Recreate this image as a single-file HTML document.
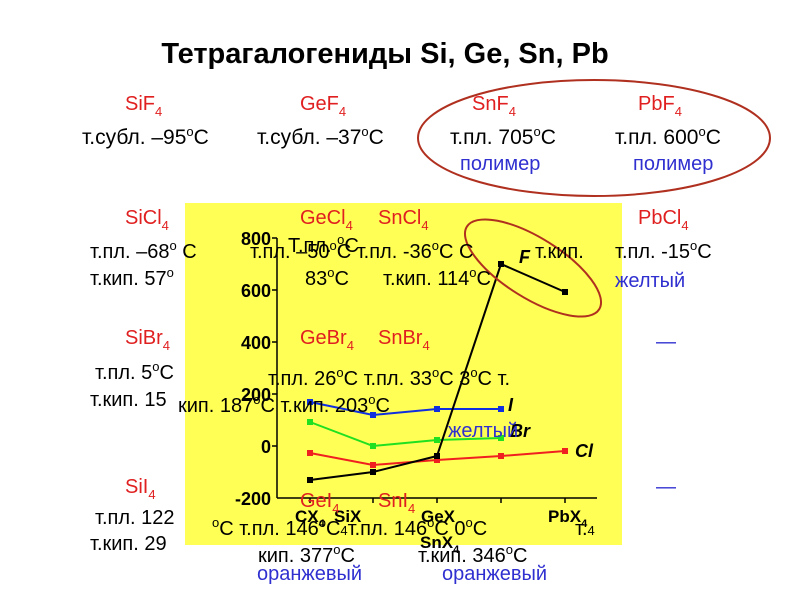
<!DOCTYPE html><html><head><style>body{margin:0;background:#fff}svg{display:block}text{font-family:"Liberation Sans",sans-serif}</style></head><body>
<svg width="800" height="601" xmlns="http://www.w3.org/2000/svg">
<rect width="800" height="601" fill="#fff"/>
<text x="385" y="63" font-size="29" font-weight="bold" text-anchor="middle">Тетрагалогениды Si, Ge, Sn, Pb</text>
<g font-size="20" fill="#e02020">
<text x="125" y="110">SiF<tspan font-size="13" dy="6">4</tspan></text>
<text x="300" y="110">GeF<tspan font-size="13" dy="6">4</tspan></text>
<text x="472" y="110">SnF<tspan font-size="13" dy="6">4</tspan></text>
<text x="638" y="110">PbF<tspan font-size="13" dy="6">4</tspan></text>
</g>
<g font-size="21">
<text x="82" y="144">т.субл. –95<tspan font-size="13" dy="-8">o</tspan><tspan dy="8">C</tspan></text>
<text x="257" y="144">т.субл. –37<tspan font-size="13" dy="-8">o</tspan><tspan dy="8">C</tspan></text>
<text x="450" y="144">т.пл. 705<tspan font-size="13" dy="-8">o</tspan><tspan dy="8">C</tspan></text>
<text x="615" y="144">т.пл. 600<tspan font-size="13" dy="-8">o</tspan><tspan dy="8">C</tspan></text>
</g>
<g font-size="20" fill="#3030d0"><text x="460" y="170">полимер</text><text x="633" y="170">полимер</text></g>
<ellipse cx="594" cy="138" rx="176" ry="58" fill="none" stroke="#b03020" stroke-width="2"/>
<rect x="185" y="203" width="437" height="342" fill="#ffff55"/>
<g stroke="#000" stroke-width="1.5" fill="none">
<line x1="277" y1="238" x2="277" y2="498"/><line x1="277" y1="498" x2="597" y2="498"/>
<line x1="272" y1="238" x2="277" y2="238"/><line x1="272" y1="290" x2="277" y2="290"/><line x1="272" y1="342" x2="277" y2="342"/><line x1="272" y1="394" x2="277" y2="394"/><line x1="272" y1="446" x2="277" y2="446"/>
<line x1="310" y1="498" x2="310" y2="503"/><line x1="373" y1="498" x2="373" y2="503"/><line x1="437" y1="498" x2="437" y2="503"/><line x1="501" y1="498" x2="501" y2="503"/><line x1="565" y1="498" x2="565" y2="503"/>
</g>
<g font-size="18" font-weight="bold" text-anchor="end"><text x="271" y="245">800</text><text x="271" y="297">600</text><text x="271" y="349">400</text><text x="271" y="401">200</text><text x="271" y="453">0</text><text x="271" y="505">-200</text></g>
<polyline points="310,402 373,415 437,409 501,409" fill="none" stroke="#1030e0" stroke-width="2"/>
<polyline points="310,422 373,446 437,440 501,438" fill="none" stroke="#20e020" stroke-width="2"/>
<polyline points="310,453 373,465 437,460 501,456 565,451" fill="none" stroke="#f02020" stroke-width="2"/>
<polyline points="310,480 373,472 437,456 501,264 565,292" fill="none" stroke="#000" stroke-width="2"/>
<g fill="#1030e0"><rect x="307" y="399" width="6" height="6"/><rect x="370" y="412" width="6" height="6"/><rect x="434" y="406" width="6" height="6"/><rect x="498" y="406" width="6" height="6"/></g>
<g fill="#20e020"><rect x="307" y="419" width="6" height="6"/><rect x="370" y="443" width="6" height="6"/><rect x="434" y="437" width="6" height="6"/><rect x="498" y="435" width="6" height="6"/></g>
<g fill="#f02020"><rect x="307" y="450" width="6" height="6"/><rect x="370" y="462" width="6" height="6"/><rect x="434" y="457" width="6" height="6"/><rect x="498" y="453" width="6" height="6"/><rect x="562" y="448" width="6" height="6"/></g>
<g fill="#000"><rect x="307" y="477" width="6" height="6"/><rect x="370" y="469" width="6" height="6"/><rect x="434" y="453" width="6" height="6"/><rect x="498" y="261" width="6" height="6"/><rect x="562" y="289" width="6" height="6"/></g>
<g font-size="18" font-weight="bold" font-style="italic"><text x="519" y="263">F</text><text x="508" y="411">I</text><text x="510" y="437">Br</text><text x="575" y="457">Cl</text></g>
<g font-size="17" font-weight="bold"><text x="295" y="522">CX<tspan font-size="11" dy="5">4</tspan></text><text x="334" y="522">SiX</text><text x="421" y="522">GeX</text><text x="420" y="548">SnX<tspan font-size="11" dy="5">4</tspan></text><text x="548" y="522">PbX<tspan font-size="11" dy="5">4</tspan></text></g>
<ellipse cx="533" cy="268" rx="78" ry="30" transform="rotate(32 533 268)" fill="none" stroke="#b03020" stroke-width="2"/>
<g font-size="20" fill="#e02020">
<text x="125" y="224">SiCl<tspan font-size="13" dy="6">4</tspan></text>
<text x="300" y="224">GeCl<tspan font-size="13" dy="6">4</tspan></text><text x="378" y="224">SnCl<tspan font-size="13" dy="6">4</tspan></text>
<text x="638" y="224">PbCl<tspan font-size="13" dy="6">4</tspan></text>
<text x="125" y="344">SiBr<tspan font-size="13" dy="6">4</tspan></text>
<text x="300" y="344">GeBr<tspan font-size="13" dy="6">4</tspan></text><text x="378" y="344">SnBr<tspan font-size="13" dy="6">4</tspan></text>
<text x="125" y="493">SiI<tspan font-size="13" dy="6">4</tspan></text>
<text x="300" y="507">GeI<tspan font-size="13" dy="6">4</tspan></text><text x="378" y="507">SnI<tspan font-size="13" dy="6">4</tspan></text>
</g>
<g font-size="20" fill="#3030d0"><text x="656" y="348">—</text><text x="656" y="493">—</text><text x="615" y="287">желтый</text><text x="448" y="437">желтый</text><text x="257" y="580">оранжевый</text><text x="442" y="580">оранжевый</text></g>
<g font-size="20">
<text x="288" y="252">Т.пл. <tspan font-size="13" dy="-8">o</tspan><tspan dy="8">C</tspan></text>
<text x="90" y="258">т.пл. –68<tspan font-size="13" dy="-8">o</tspan><tspan dy="8">  C</tspan></text>
<text x="250" y="258">т.пл. –50<tspan font-size="13" dy="-8">o</tspan><tspan dy="8">C т.пл. -36</tspan><tspan font-size="13" dy="-8">o</tspan><tspan dy="8">C C</tspan></text>
<text x="535" y="258">т.кип.</text><text x="615" y="258">т.пл. -15<tspan font-size="13" dy="-8">o</tspan><tspan dy="8">C</tspan></text>
<text x="90" y="285">т.кип. 57<tspan font-size="13" dy="-8">o</tspan></text>
<text x="305" y="285">83<tspan font-size="13" dy="-8">o</tspan><tspan dy="8">C</tspan></text><text x="383" y="285">т.кип. 114<tspan font-size="13" dy="-8">o</tspan><tspan dy="8">C</tspan></text>
<text x="95" y="379">т.пл. 5<tspan font-size="13" dy="-8">o</tspan><tspan dy="8">C</tspan></text>
<text x="268" y="385">т.пл. 26<tspan font-size="13" dy="-8">o</tspan><tspan dy="8">C   т.пл. 33</tspan><tspan font-size="13" dy="-8">o</tspan><tspan dy="8">C 3</tspan><tspan font-size="13" dy="-8">o</tspan><tspan dy="8">C  т.</tspan></text>
<text x="90" y="406">т.кип. 15</text>
<text x="178" y="412">кип. 187<tspan font-size="13" dy="-8">o</tspan><tspan dy="8">C  т.кип. 203</tspan><tspan font-size="13" dy="-8">o</tspan><tspan dy="8">C</tspan></text>
<text x="95" y="524">т.пл. 122</text>
<text x="212" y="535"><tspan font-size="13" dy="-8">o</tspan><tspan dy="8">C  т.пл. 146</tspan><tspan font-size="13" dy="-8">o</tspan><tspan dy="8">C</tspan><tspan font-size="13">4</tspan><tspan>т.пл. 146</tspan><tspan font-size="13" dy="-8">o</tspan><tspan dy="8">C 0</tspan><tspan font-size="13" dy="-8">o</tspan><tspan dy="8">C</tspan></text>
<text x="575" y="535">т.<tspan font-size="13">4</tspan></text>
<text x="90" y="550">т.кип. 29</text>
<text x="258" y="562">кип. 377<tspan font-size="13" dy="-8">o</tspan><tspan dy="8">C</tspan></text><text x="418" y="562">т.кип. 346<tspan font-size="13" dy="-8">o</tspan><tspan dy="8">C</tspan></text>
</g>
</svg></body></html>
